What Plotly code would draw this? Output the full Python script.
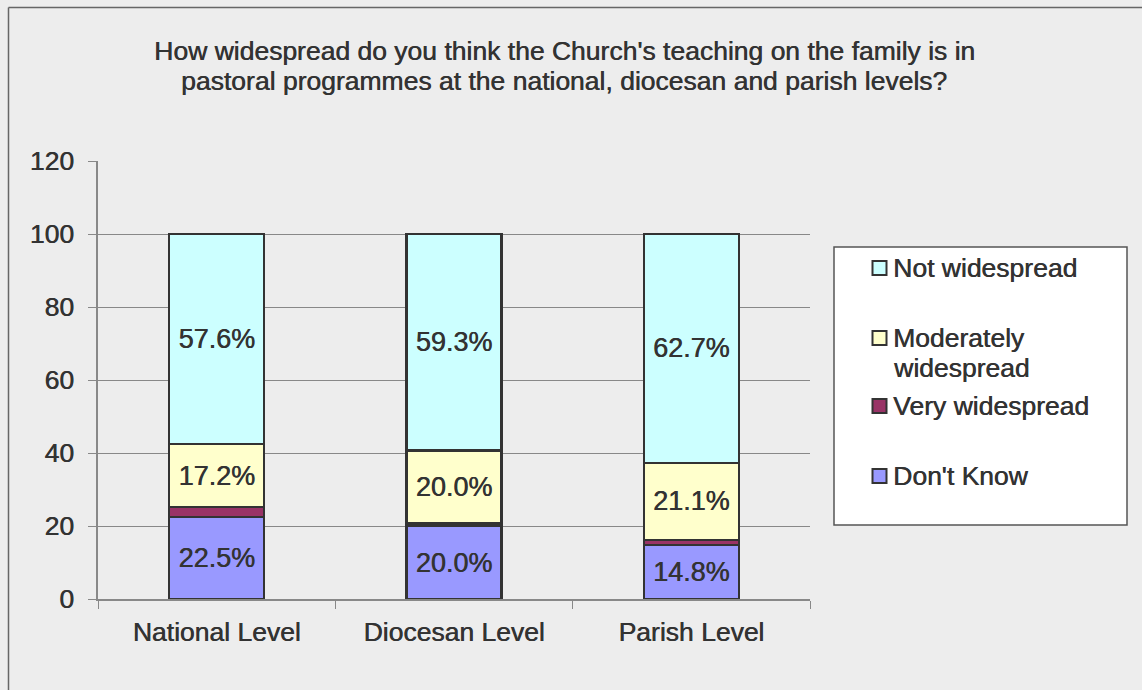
import plotly.graph_objects as go

# Survey results (% of respondents) per pastoral level
levels = ["National Level", "Diocesan Level", "Parish Level"]
dont_know = [22.5, 20.0, 14.8]
very_widespread = [2.7, 0.7, 1.4]
moderately_widespread = [17.2, 20.0, 21.1]
not_widespread = [57.6, 59.3, 62.7]

series = [
    ("Don't Know", dont_know, "#9999FF", True),
    ("Very widespread", very_widespread, "#993366", False),
    ("Moderately widespread", moderately_widespread, "#FFFFCC", True),
    ("Not widespread", not_widespread, "#CCFFFF", True),
]

y_ticks = [0, 20, 40, 60, 80, 100, 120]

W, H = 1142, 690
L, R, T, B = 98, 810, 161, 599  # plot area in pixels

FACE = "Liberation Sans, Arial, sans-serif"
TXT = "#333333"
HEAVY = "0.5px 0 0 #333333"  # slight faux-medium weight


def font(size=26.5, color=TXT):
    return dict(family=FACE, size=size, color=color, shadow=HEAVY)


def px_x(p):
    return (p - L) / (R - L)


def px_y(p):
    return (B - p) / (B - T)


fig = go.Figure()
for name, vals, color, labelled in series:
    fig.add_trace(go.Bar(
        x=levels,
        y=vals,
        name=name,
        marker=dict(color=color, line=dict(color="#333333", width=2.5)),
        width=0.4,
        text=[f"{v:.1f}%" for v in vals] if labelled else None,
        textposition="inside" if labelled else "none",
        insidetextanchor="middle",
        textangle=0,
        textfont=font(27),
        showlegend=False,
        hoverinfo="x+y+name",
    ))

shapes = []
annotations = []

# chart frame (left and top edges)
shapes.append(dict(type="line", xref="paper", yref="paper",
                   x0=px_x(8.5), x1=px_x(8.5), y0=px_y(7.5), y1=px_y(700),
                   line=dict(color="#666666", width=1.5)))
shapes.append(dict(type="line", xref="paper", yref="paper",
                   x0=px_x(8.5), x1=px_x(1150), y0=px_y(7.5), y1=px_y(7.5),
                   line=dict(color="#666666", width=1.5)))

# title, two lines
title_lines = [
    ("How widespread do you think the Church's teaching on the family is in", 51),
    ("pastoral programmes at the national, diocesan and parish levels?", 81),
]
for line, cy in title_lines:
    annotations.append(dict(
        xref="paper", yref="paper", x=px_x(564), y=px_y(cy),
        xanchor="center", yanchor="middle", showarrow=False,
        text=line, font=font(26.5),
    ))

# legend box
shapes.append(dict(type="rect", xref="paper", yref="paper",
                   x0=px_x(834), x1=px_x(1127), y0=px_y(247), y1=px_y(525),
                   fillcolor="white", line=dict(color="#555555", width=1.5)))
legend_items = [
    (["Not widespread"], "#CCFFFF", 268),
    (["Moderately", "widespread"], "#FFFFCC", 338),
    (["Very widespread"], "#993366", 406),
    (["Don't Know"], "#9999FF", 476),
]
for lines, color, my in legend_items:
    shapes.append(dict(type="rect", xref="paper", yref="paper",
                       x0=px_x(872.5), x1=px_x(886.5), y0=px_y(my - 7), y1=px_y(my + 7),
                       fillcolor=color, line=dict(color="#333333", width=2)))
    for i, line in enumerate(lines):
        annotations.append(dict(
            xref="paper", yref="paper", x=px_x(891), y=px_y(my + 29.5 * i),
            xanchor="left", yanchor="middle", align="left", showarrow=False,
            text=line, font=font(26.5),
        ))

fig.update_layout(
    width=W, height=H,
    margin=dict(l=L, r=W - R, t=T, b=H - B, pad=0),
    paper_bgcolor="#EDEDED",
    plot_bgcolor="#EDEDED",
    barmode="stack",
    bargap=0.6,
    shapes=shapes,
    annotations=annotations,
    font=dict(family=FACE, size=26, color=TXT),
    showlegend=False,
    uniformtext=dict(minsize=27, mode="show"),
)
fig.update_xaxes(
    type="category",
    showline=True, linecolor="#888888", linewidth=1.5,
    ticks="outside", tickson="boundaries", ticklen=8, tickcolor="#888888",
    tickfont=font(26.5),
    ticklabelstandoff=8,
    showgrid=False, zeroline=False,
)
fig.update_yaxes(
    range=[0, 120],
    tickvals=y_ticks,
    ticktext=[str(v) for v in y_ticks],
    showline=True, linecolor="#888888", linewidth=1.5,
    ticks="outside", ticklen=8, tickcolor="#888888",
    tickfont=font(26.5),
    ticklabelstandoff=9,
    showgrid=True, gridcolor="#888888", gridwidth=1,
    zeroline=False,
)

fig.write_html("out.html")
